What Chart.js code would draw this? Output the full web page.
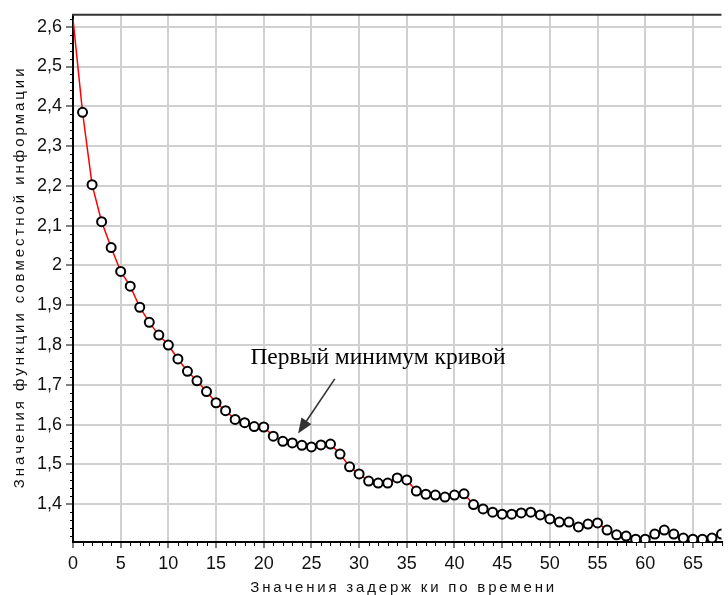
<!DOCTYPE html>
<html lang="ru">

<head>
    <meta charset="UTF-8">
    <title>Функция совместной информации</title>
    <script src="https://cdn.jsdelivr.net/npm/chart.js"></script>
    <style>
        body {
            margin: 0;
            background: #FFFFFF;
        }

        canvas {
            display: block;
        }
    </style>
</head>

<body>
    <canvas id="miChart" width="728" height="595"></canvas>

    <script>
        // Lag values and mutual information
        const lags = [0, 1, 2, 3, 4, 5, 6, 7, 8, 9, 10, 11, 12, 13, 14, 15, 16, 17, 18, 19, 20,
            21, 22, 23, 24, 25, 26, 27, 28, 29, 30, 31, 32, 33, 34, 35, 36, 37, 38, 39, 40,
            41, 42, 43, 44, 45, 46, 47, 48, 49, 50, 51, 52, 53, 54, 55, 56, 57, 58, 59, 60,
            61, 62, 63, 64, 65, 66, 67, 68];
        const miValues = [2.62, 2.385, 2.203, 2.11, 2.045, 1.985, 1.948, 1.895, 1.857, 1.825, 1.800,
            1.765, 1.734, 1.710, 1.683, 1.655, 1.635, 1.613, 1.605, 1.595, 1.594,
            1.571, 1.558, 1.554, 1.548, 1.544, 1.549, 1.551, 1.526, 1.494, 1.476,
            1.458, 1.453, 1.453, 1.466, 1.461, 1.433, 1.425, 1.423, 1.418, 1.423,
            1.426, 1.399, 1.388, 1.380, 1.375, 1.375, 1.378, 1.380, 1.373, 1.363,
            1.355, 1.355, 1.343, 1.350, 1.353, 1.335, 1.323, 1.320, 1.312, 1.312,
            1.325, 1.335, 1.325, 1.315, 1.312, 1.312, 1.315, 1.325];

        const xTicks = [0, 5, 10, 15, 20, 25, 30, 35, 40, 45, 50, 55, 60, 65];
        const xTickLabels = ['0', '5', '10', '15', '20', '25', '30', '35', '40', '45', '50', '55', '60', '65'];
        const yTicks = [1.4, 1.5, 1.6, 1.7, 1.8, 1.9, 2.0, 2.1, 2.2, 2.3, 2.4, 2.5, 2.6];
        const yTickLabels = ['1,4', '1,5', '1,6', '1,7', '1,8', '1,9', '2', '2,1', '2,2', '2,3', '2,4', '2,5', '2,6'];

        const xTitle = 'Значения задерж ки по времени';
        const yTitle = 'Значения функции совместной информации';
        const noteText = 'Первый минимум кривой';

        // annotation anchor (data coords): text start and arrow from/to
        const notePos = { x: 18.6, y: 1.7525 };
        const arrowFrom = { x: 27.45, y: 1.715 };
        const arrowTo = { x: 23.6, y: 1.578 };

        function spacedText(ctx, text, cx, cy, spacing) {
            const chars = [...text];
            const widths = chars.map(ch => ctx.measureText(ch).width);
            const total = widths.reduce((a, b) => a + b, 0) + spacing * (chars.length - 1);
            let x = cx - total / 2;
            ctx.textAlign = 'left';
            chars.forEach((ch, i) => {
                ctx.fillText(ch, x, cy);
                x += widths[i] + spacing;
            });
        }

        const decor = {
            id: 'decor',
            afterDraw(chart) {
                const ctx = chart.ctx;
                const area = chart.chartArea;
                const xs = chart.scales.x;
                const ys = chart.scales.y;
                ctx.save();

                // top frame line
                ctx.strokeStyle = '#333333';
                ctx.lineWidth = 2;
                ctx.beginPath();
                ctx.moveTo(area.left - 1, area.top);
                ctx.lineTo(area.right, area.top);
                ctx.stroke();

                // minor ticks
                ctx.strokeStyle = '#000000';
                ctx.lineWidth = 1;
                ctx.beginPath();
                for (let v = 0; v <= 68; v++) {
                    if (v % 5 === 0) continue;
                    const px = Math.round(xs.getPixelForValue(v)) + 0.5;
                    ctx.moveTo(px, area.bottom);
                    ctx.lineTo(px, area.bottom + 4);
                }
                for (let k = 66; k <= 131; k++) {
                    if (k % 5 === 0) continue;
                    const py = Math.round(ys.getPixelForValue(k / 50)) + 0.5;
                    ctx.moveTo(area.left - 3, py);
                    ctx.lineTo(area.left, py);
                }
                ctx.stroke();

                // annotation text and arrow
                ctx.fillStyle = '#000000';
                ctx.font = '23.5px "Liberation Serif", "Times New Roman", serif';
                ctx.textAlign = 'left';
                ctx.textBaseline = 'alphabetic';
                ctx.fillText(noteText, xs.getPixelForValue(notePos.x), ys.getPixelForValue(notePos.y));

                const x1 = xs.getPixelForValue(arrowFrom.x), y1 = ys.getPixelForValue(arrowFrom.y);
                const x2 = xs.getPixelForValue(arrowTo.x), y2 = ys.getPixelForValue(arrowTo.y);
                const ang = Math.atan2(y2 - y1, x2 - x1);
                const headLen = 15, headW = 6;
                const bx = x2 - headLen * Math.cos(ang), by = y2 - headLen * Math.sin(ang);
                ctx.strokeStyle = '#333333';
                ctx.fillStyle = '#333333';
                ctx.lineWidth = 1.6;
                ctx.beginPath();
                ctx.moveTo(x1, y1);
                ctx.lineTo(bx, by);
                ctx.stroke();
                ctx.beginPath();
                ctx.moveTo(x2, y2);
                ctx.lineTo(bx + headW * Math.sin(ang), by - headW * Math.cos(ang));
                ctx.lineTo(bx - headW * Math.sin(ang), by + headW * Math.cos(ang));
                ctx.closePath();
                ctx.fill();

                // axis titles
                ctx.fillStyle = '#111111';
                ctx.font = '15px "Liberation Sans", Arial, sans-serif';
                ctx.textBaseline = 'middle';
                spacedText(ctx, xTitle, (area.left + area.right) / 2 + 5, 588, 2.8);

                ctx.translate(20, (area.top + area.bottom) / 2);
                ctx.rotate(-Math.PI / 2);
                spacedText(ctx, yTitle, 0, 0, 2.95);

                ctx.restore();
            }
        };

        const ctx = document.getElementById('miChart');
        new Chart(ctx, {
            type: 'line',
            data: {
                datasets: [{
                    data: lags.map((x, i) => ({ x: x, y: miValues[i] })),
                    borderColor: '#FF0000',
                    borderWidth: 1.5,
                    tension: 0,
                    pointRadius: lags.map((x, i) => i === 0 ? 0 : 4.5),
                    pointBorderColor: '#000000',
                    pointBackgroundColor: '#FFFFFF',
                    pointBorderWidth: 2
                }]
            },
            options: {
                responsive: false,
                animation: false,
                devicePixelRatio: 1,
                layout: { padding: { top: 14, left: 0, right: 0, bottom: 0 } },
                plugins: {
                    legend: { display: false },
                    tooltip: { enabled: false }
                },
                scales: {
                    x: {
                        type: 'linear',
                        min: 0,
                        max: 68,
                        afterBuildTicks: s => { s.ticks = xTicks.map(v => ({ value: v })); },
                        afterFit: s => { s.height = 53; },
                        grid: { color: '#D0D0D0', lineWidth: 2, tickColor: '#000000', tickLength: 6, tickWidth: 1 },
                        border: { color: '#000000', width: 2 },
                        ticks: {
                            autoSkip: false,
                            maxRotation: 0,
                            padding: 5,
                            color: '#111111',
                            font: { family: '"Liberation Sans", Arial, sans-serif', size: 18 },
                            callback: (v, i) => xTickLabels[i]
                        }
                    },
                    y: {
                        min: 1.305,
                        max: 2.63,
                        afterBuildTicks: s => { s.ticks = yTicks.map(v => ({ value: v })); },
                        afterFit: s => { s.width = 73; },
                        grid: { color: '#D0D0D0', lineWidth: 2, tickColor: '#000000', tickLength: 7, tickWidth: 1 },
                        border: { color: '#000000', width: 2 },
                        ticks: {
                            padding: 4,
                            color: '#111111',
                            font: { family: '"Liberation Sans", Arial, sans-serif', size: 18 },
                            callback: (v, i) => yTickLabels[i]
                        }
                    }
                }
            },
            plugins: [decor]
        });
    </script>
</body>

</html>
